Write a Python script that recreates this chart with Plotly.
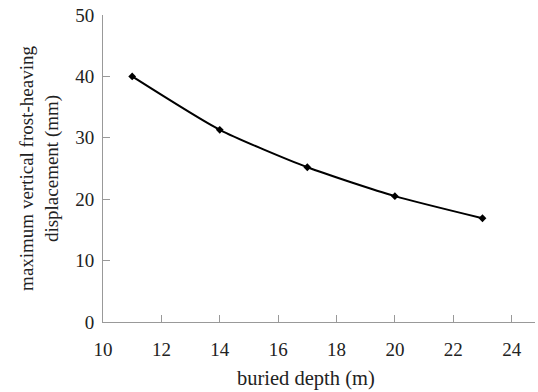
import plotly.graph_objects as go

depth = [11, 14, 17, 20, 23]
displacement = [40.0, 31.3, 25.2, 20.5, 16.9]
x_ticks = [10, 12, 14, 16, 18, 20, 22, 24]
y_ticks = [0, 10, 20, 30, 40, 50]

fig = go.Figure()
fig.add_trace(go.Scatter(
    x=depth, y=displacement, mode="lines+markers",
    line=dict(color="black", width=2, shape="spline", smoothing=0.6),
    marker=dict(symbol="diamond", size=6, color="black"),
    showlegend=False,
))

family = "Liberation Serif, Times New Roman, serif"
tick_font = dict(family=family, size=19, color="#222")
fig.update_layout(
    width=538, height=392,
    margin=dict(l=103, r=3, t=15, b=70),
    paper_bgcolor="white", plot_bgcolor="white",
    font=dict(family=family, size=19, color="#222"),
)
fig.update_xaxes(
    range=[10, 24.8], tickvals=x_ticks, ticks="inside", ticklen=7,
    tickcolor="#999", showline=True, linecolor="#999", linewidth=1,
    showgrid=False, zeroline=False, ticklabelstandoff=10, tickfont=tick_font,
)
fig.add_annotation(
    text="buried depth (m)", xref="paper", yref="paper",
    x=(306 - 103) / 432, y=-(378 - 322) / 307, xanchor="center", yanchor="middle",
    showarrow=False, font=dict(family=family, size=20.5, color="#222"),
)
fig.update_yaxes(
    range=[0, 50], tickvals=y_ticks, ticks="inside", ticklen=7,
    tickcolor="#999", showline=True, linecolor="#999", linewidth=1,
    showgrid=False, zeroline=False, ticklabelstandoff=4, tickfont=tick_font,
    title=dict(text="maximum vertical frost-heaving<br>displacement (mm)",
               font=dict(family=family, size=19, color="#222"), standoff=11),
)
fig.write_html("out.html")
